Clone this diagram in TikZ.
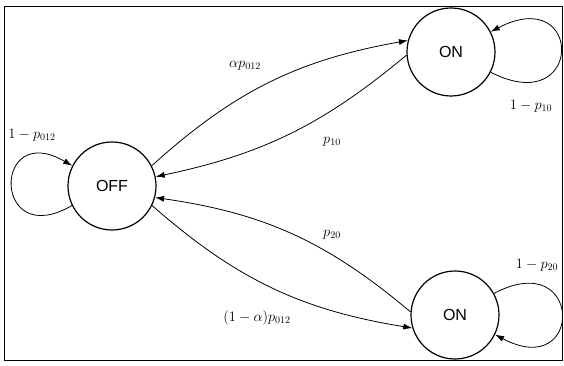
\documentclass[tikz,border=0pt]{standalone}
\usepackage{fontspec}
\newfontfamily\statefont{Liberation Sans}
\usetikzlibrary{arrows.meta}
\begin{document}
\begin{tikzpicture}[x=1pt,y=1pt,
  state/.style={circle,draw,line width=1.2pt,minimum size=88pt,inner sep=0pt,
    font=\statefont\fontsize{16}{18}\selectfont},
  edge/.style={line width=0.8pt,-{Latex[length=9pt,width=6pt]}},
  lbl/.style={font=\fontsize{14.4}{16}\selectfont,inner sep=0pt}]
\useasboundingbox (0,0) rectangle (564,366);
\draw[line width=1pt] (4,5) rectangle (562,359);

\node[state] (off) at (112,180) {OFF};
\node[state] (on1) at (451,314) {ON};
\node[state] (on2) at (455,51) {ON};

\draw[edge] (off.27) to[bend left=16] (on1.165);
\draw[edge] (on1.184) to[bend left=14] (off.12);
\draw[edge] (on2.176) to[bend right=16] (off.-15);
\draw[edge] (off.-26) to[bend right=16] (on2.197);

\draw[edge] (off.206) .. controls (-8,114) and (-8,247) .. (off.153);
\draw[edge] (on1.-27) .. controls (584,246) and (584,383) .. (on1.27);
\draw[edge] (on2.29) .. controls (584,120) and (584,-16) .. (on2.-26);

\node[lbl] (l1) at (32,231) {$1-p_{012}$};
\node[lbl] (l2) at (245,300) {$\alpha p_{012}$};
\node[lbl] (l3) at (332,224) {$p_{10}$};
\node[lbl] (l4) at (531,260) {$1-p_{10}$};
\node[lbl] (l5) at (332,131) {$p_{20}$};
\node[lbl] (l6) at (537,101) {$1-p_{20}$};
\node[lbl] (l7) at (257,48) {$(1-\alpha)p_{012}$};
\end{tikzpicture}
\end{document}
